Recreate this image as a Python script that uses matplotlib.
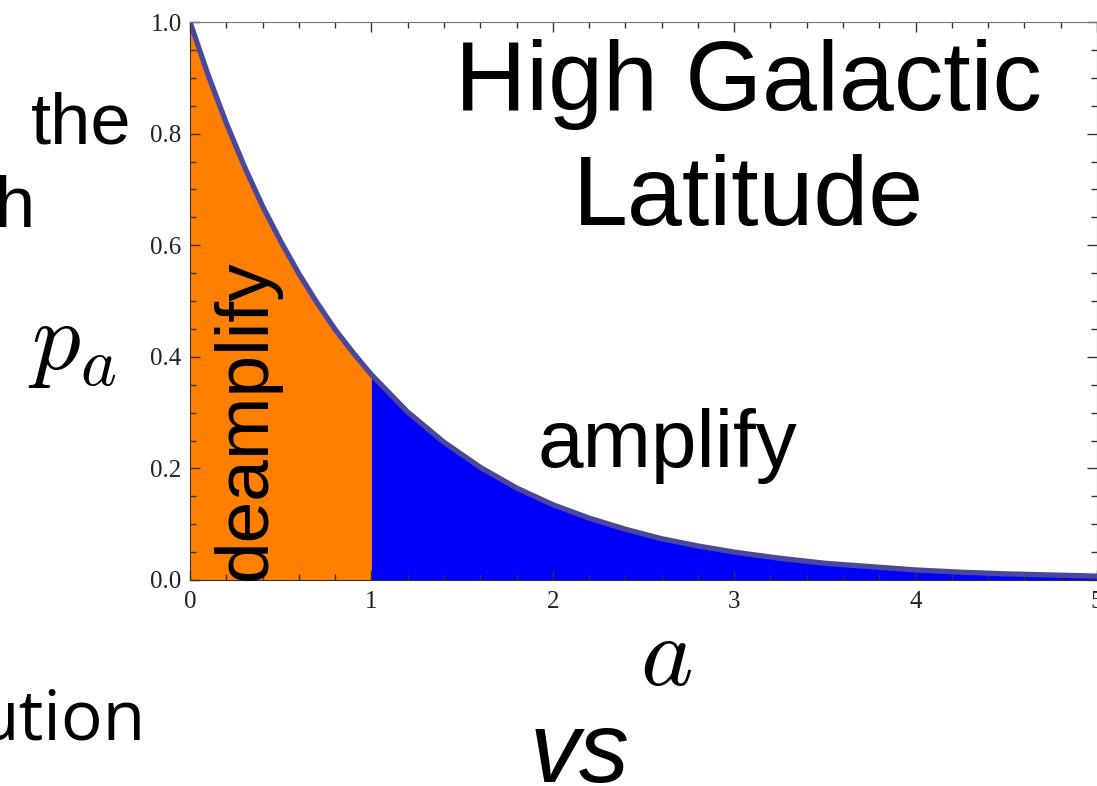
import matplotlib
matplotlib.use("Agg")
import matplotlib.pyplot as plt
from matplotlib.ticker import MultipleLocator, FixedLocator

# ---- data ----
a_vals = [0.0, 0.1, 0.2, 0.3, 0.4, 0.5, 0.6, 0.7, 0.8, 0.9, 1.0,
          1.2, 1.4, 1.6, 1.8, 2.0, 2.2, 2.4, 2.6, 2.8, 3.0,
          3.25, 3.5, 3.75, 4.0, 4.25, 4.5, 4.75, 5.0]
p_vals = [1.000, 0.905, 0.819, 0.741, 0.670, 0.607, 0.549, 0.497, 0.449, 0.407, 0.368,
          0.301, 0.247, 0.202, 0.165, 0.135, 0.111, 0.091, 0.074, 0.061, 0.050,
          0.039, 0.030, 0.024, 0.018, 0.014, 0.011, 0.009, 0.007]
split_a = 1.0
x_ticks = [0, 1, 2, 3, 4, 5]
x_ticklabels = ["0", "1", "2", "3", "4", "5"]
y_ticks = [0.0, 0.2, 0.4, 0.6, 0.8, 1.0]
y_ticklabels = ["0.0", "0.2", "0.4", "0.6", "0.8", "1.0"]

W, H = 1097, 786
fig = plt.figure(figsize=(W / 100, H / 100), dpi=100)
plt.rcParams['mathtext.fontset'] = 'cm'

ax = fig.add_axes([190 / W, 1 - 580 / H, (1097 - 190) / W, (580 - 22) / H])

low = [a <= split_a for a in a_vals]
high = [a >= split_a for a in a_vals]
ax.fill_between(a_vals, 0, p_vals, where=low, color='#FF8000', linewidth=0, zorder=1)
ax.fill_between(a_vals, 0, p_vals, where=high, color='#0000FF', linewidth=0, zorder=1)
ax.plot(a_vals, p_vals, color='#4A479C', lw=3.8, solid_capstyle='butt', zorder=2)

ax.set_xlim(0, 5)
ax.set_ylim(0, 1)
ax.xaxis.set_major_locator(FixedLocator(x_ticks))
ax.set_xticklabels(x_ticklabels)
ax.yaxis.set_major_locator(FixedLocator(y_ticks))
ax.set_yticklabels(y_ticklabels)
ax.xaxis.set_minor_locator(MultipleLocator(0.2))
ax.yaxis.set_minor_locator(MultipleLocator(0.05))

ax.tick_params(which='both', direction='in', top=True, right=True, color='#333333', width=1.0)
ax.tick_params(which='major', length=7)
ax.tick_params(which='minor', length=4.5)
ax.tick_params(axis='x', which='major', pad=8)
ax.tick_params(axis='y', which='major', pad=6)
for lab in ax.get_xticklabels() + ax.get_yticklabels():
    lab.set_family('Liberation Serif')
    lab.set_fontsize(18)
    lab.set_color('#222222')
for side in ['left', 'bottom']:
    ax.spines[side].set_color('#333333')
for side in ['top', 'right']:
    ax.spines[side].set_color('#777777')
for t in ax.xaxis.get_major_ticks() + ax.xaxis.get_minor_ticks():
    t.tick2line.set_color('#777777')
for t in ax.yaxis.get_major_ticks() + ax.yaxis.get_minor_ticks():
    t.tick2line.set_color('#777777')


def P(x, y):
    return (x / W, 1 - y / H)


# axis labels (math)
fig.text(*P(28, 369), r'$p_a$', fontsize=70, ha='left', va='baseline')
fig.text(*P(666, 685), r'$a$', fontsize=72, ha='center', va='baseline')

# annotations
sans = dict(family=['Liberation Sans', 'DejaVu Sans'])
fig.text(*P(748, 110), 'High Galactic', fontsize=71, ha='center', va='baseline', **sans)
fig.text(*P(748, 225), 'Latitude', fontsize=71, ha='center', va='baseline', **sans)
fig.text(*P(667, 467), 'amplify', fontsize=59, ha='center', va='baseline', **sans)
fig.text(*P(266, 580), 'deamplify', fontsize=54, ha='left', va='baseline',
         rotation=90, rotation_mode='anchor', **sans)

# slide text fragments around the chart
fig.text(*P(131, 143), 'the', fontsize=52, ha='right', va='baseline', family='Liberation Sans')
fig.text(*P(35, 227), 'h', fontsize=52, ha='right', va='baseline', family='Liberation Sans')
fig.text(*P(146, 740), 'ution', fontsize=50, ha='right', va='baseline', family='Open Sans')
fig.text(*P(530, 782), 'vs', fontsize=72, ha='left', va='baseline',
         family='Liberation Sans', style='italic')

fig.savefig('out.png', dpi=100)
